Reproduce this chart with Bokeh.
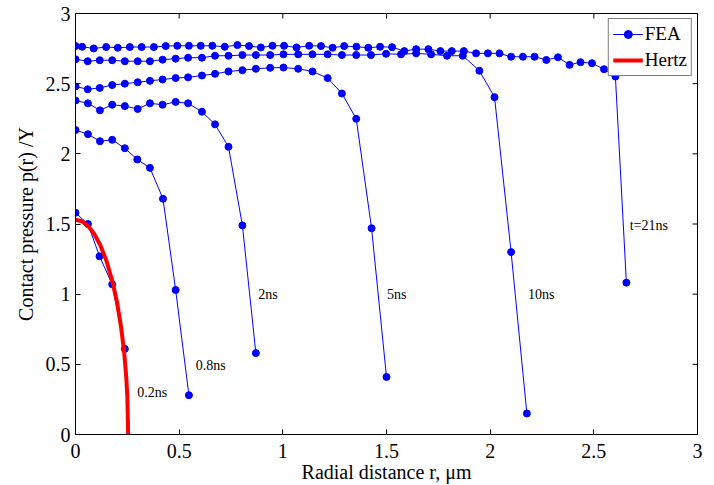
import math
from bokeh.plotting import figure
from bokeh.models import FixedTicker, Range1d, Legend, LegendItem
from bokeh.core.properties import value
from bokeh.embed import file_html
from bokeh.resources import INLINE

FONT = "Liberation Serif"

# ---- data ----
x_02 = [0.0, 0.06, 0.116, 0.177, 0.238]
y_02 = [1.58, 1.50, 1.27, 1.07, 0.61]

x_08 = [0.0, 0.06, 0.118, 0.177, 0.238, 0.298, 0.359, 0.422, 0.483, 0.547]
y_08 = [2.17, 2.14, 2.09, 2.10, 2.04, 1.96, 1.90, 1.68, 1.03, 0.28]

x_2 = [0.0, 0.06, 0.118, 0.177, 0.238, 0.30, 0.359, 0.42, 0.483, 0.543,
       0.61, 0.673, 0.738, 0.805, 0.87]
y_2 = [2.38, 2.36, 2.31, 2.35, 2.34, 2.32, 2.36, 2.35, 2.37, 2.36,
       2.30, 2.21, 2.05, 1.49, 0.58]

x_5 = [0.0, 0.059, 0.117, 0.177, 0.238, 0.30, 0.359, 0.42, 0.483, 0.543,
       0.61, 0.673, 0.738, 0.805, 0.87, 0.939, 1.003, 1.074, 1.143, 1.216,
       1.285, 1.354, 1.428, 1.50]
y_5 = [2.48, 2.46, 2.47, 2.49, 2.50, 2.51, 2.52, 2.53, 2.54, 2.545,
       2.558, 2.57, 2.587, 2.596, 2.606, 2.613, 2.615, 2.606, 2.587, 2.54,
       2.43, 2.25, 1.47, 0.41]

x_10 = [0.0, 0.059, 0.117, 0.177, 0.238, 0.30, 0.359, 0.42, 0.483, 0.543,
        0.61, 0.673, 0.738, 0.805, 0.87, 0.939, 1.003, 1.074, 1.143, 1.216,
        1.285, 1.354, 1.425, 1.498, 1.57, 1.643, 1.715, 1.792, 1.868, 1.948,
        2.021, 2.101, 2.177]
y_10 = [2.674, 2.66, 2.667, 2.667, 2.66, 2.66, 2.66, 2.671, 2.678, 2.685,
        2.685, 2.699, 2.699, 2.704, 2.704, 2.704, 2.709, 2.709, 2.709, 2.709,
        2.704, 2.704, 2.704, 2.713, 2.709, 2.716, 2.709, 2.699, 2.699, 2.592,
        2.404, 1.30, 0.15]

x_21 = [0.0, 0.032, 0.088, 0.148, 0.204, 0.262, 0.319, 0.378, 0.435, 0.491,
        0.547, 0.604, 0.66, 0.72, 0.781, 0.837, 0.894, 0.95, 1.006, 1.066,
        1.127, 1.184, 1.24, 1.296, 1.355, 1.412, 1.469, 1.527, 1.586, 1.643,
        1.702, 1.76, 1.815, 1.873, 1.932, 1.989, 2.045, 2.101, 2.158, 2.214,
        2.271, 2.327, 2.383, 2.436, 2.491, 2.549, 2.604, 2.657]
y_21 = [2.768, 2.763, 2.751, 2.761, 2.756, 2.761, 2.761, 2.761, 2.768, 2.77,
        2.77, 2.77, 2.77, 2.763, 2.775, 2.768, 2.758, 2.77, 2.77, 2.758,
        2.77, 2.768, 2.756, 2.768, 2.763, 2.756, 2.763, 2.76, 2.732, 2.746,
        2.746, 2.732, 2.732, 2.732, 2.716, 2.716, 2.716, 2.692, 2.692, 2.692,
        2.669, 2.688, 2.634, 2.653, 2.646, 2.603, 2.551, 1.082]

hertz_x = [0.0, 0.03, 0.06, 0.09, 0.12, 0.15, 0.18, 0.20, 0.22, 0.235,
           0.245, 0.25, 0.254]
hertz_y = [1.53, 1.52, 1.487, 1.431, 1.349, 1.235, 1.079, 0.943, 0.765,
           0.581, 0.404, 0.271, 0.0]

label_text = ["0.2ns", "0.8ns", "2ns", "5ns", "10ns", "t=21ns"]
label_x = [0.298, 0.58, 0.881, 1.502, 2.182, 2.673]
label_y = [0.296, 0.493, 0.995, 0.995, 0.995, 1.49]

x_ticks = [0.0, 0.5, 1.0, 1.5, 2.0, 2.5, 3.0]
x_tick_labels = ["0", "0.5", "1", "1.5", "2", "2.5", "3"]
y_ticks = [0.0, 0.5, 1.0, 1.5, 2.0, 2.5, 3.0]
y_tick_labels = ["0", "0.5", "1", "1.5", "2", "2.5", "3"]
x_max = 3.0
y_max = 3.0

# ---- figure ----
p = figure(width=714, height=485, x_range=Range1d(0, x_max), y_range=Range1d(0, y_max),
           output_backend="svg", toolbar_location=None,
           min_border_left=75, min_border_right=17, min_border_top=13,
           min_border_bottom=46)
p.background_fill_color = "white"
p.border_fill_color = "white"
p.outline_line_color = "black"
p.outline_line_width = 1
p.grid.visible = False

for ax, ticks, labels in ((p.xaxis[0], x_ticks, x_tick_labels),
                          (p.yaxis[0], y_ticks, y_tick_labels)):
    ax.ticker = FixedTicker(ticks=ticks)
    ax.major_label_overrides = {float(t): l for t, l in zip(ticks, labels)}
    ax.major_tick_in = 5
    ax.major_tick_out = 0
    ax.minor_tick_line_color = None
    ax.axis_line_color = "black"
    ax.major_tick_line_color = "black"
    ax.major_label_text_font = FONT
    ax.major_label_text_color = "black"
    ax.major_label_text_font_size = "20px"
    ax.axis_label_text_font = FONT
    ax.axis_label_text_font_style = "normal"
    ax.axis_label_text_color = "black"
    ax.axis_label_text_font_size = "20px"

p.xaxis[0].axis_label = "Radial distance r, \u03bcm"
p.yaxis[0].axis_label = "Contact pressure p(r) /Y"
p.xaxis[0].major_label_standoff = 9
p.xaxis[0].axis_label_standoff = 0
p.yaxis[0].major_label_standoff = 5
p.yaxis[0].axis_label_standoff = 6

# inward ticks on the right and top frame edges (half of each dash is clipped)
p.scatter(x=[x_max] * len(y_ticks), y=y_ticks, marker="dash", size=10,
          line_color="black", line_width=1)
p.scatter(x=x_ticks, y=[y_max] * len(x_ticks), marker="dash", size=10,
          angle=math.pi / 2, line_color="black", line_width=1)

blue = "#0000ff"
series = [(x_02, y_02), (x_08, y_08), (x_2, y_2), (x_5, y_5), (x_10, y_10), (x_21, y_21)]
fea_line = None
fea_dots = None
for xs, ys in series:
    l = p.line(xs, ys, line_color=blue, line_width=1)
    s = p.scatter(xs, ys, marker="circle", size=7, fill_color=blue, line_color=blue)
    if fea_line is None:
        fea_line, fea_dots = l, s

hertz = p.line(hertz_x, hertz_y, line_color="red", line_width=4)

p.text(x=label_x, y=label_y, text=label_text, text_font=value(FONT),
       text_font_size="14px", text_align="left", text_baseline="middle",
       text_color="black")

legend = Legend(items=[LegendItem(label="FEA", renderers=[fea_line, fea_dots]),
                       LegendItem(label="Hertz", renderers=[hertz])],
                location="top_right")
legend.label_text_font = FONT
legend.label_text_font_size = "19px"
legend.label_text_color = "black"
legend.border_line_color = "black"
legend.border_line_width = 1
legend.background_fill_color = "white"
legend.background_fill_alpha = 1.0
legend.padding = 4
legend.spacing = 4
legend.margin = 5
legend.glyph_width = 30
legend.glyph_height = 20
legend.label_height = 20
legend.label_standoff = 2
p.add_layout(legend)

open("out.html", "w").write(file_html(p, INLINE))
